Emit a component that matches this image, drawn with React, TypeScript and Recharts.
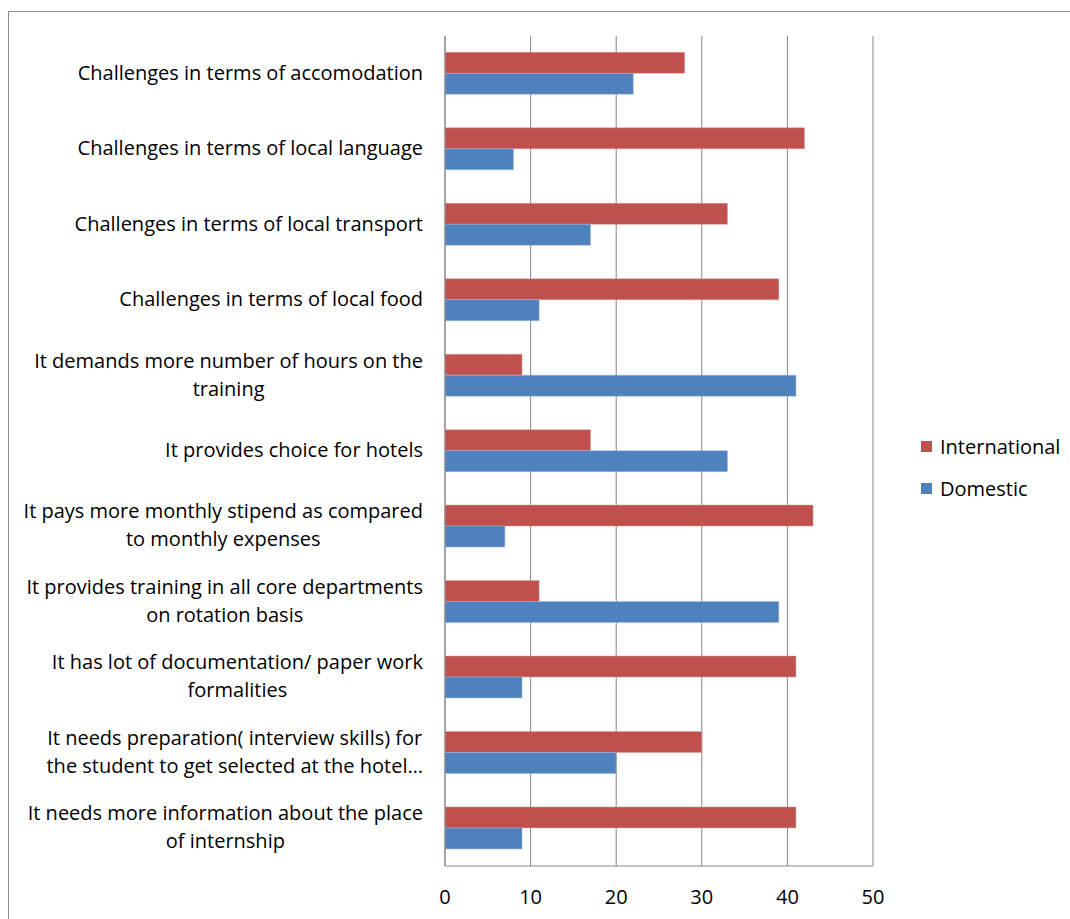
import React from "react";
import { BarChart, Bar, XAxis, YAxis, CartesianGrid } from "recharts";

const categories = [
  "Challenges in terms of accomodation",
  "Challenges in terms of local language",
  "Challenges in terms of local transport",
  "Challenges in terms of local food",
  "It demands more number of hours on the training",
  "It provides choice for hotels",
  "It pays more monthly stipend as compared to monthly expenses",
  "It provides training in all core departments on rotation basis",
  "It has lot of documentation/ paper work formalities",
  "It needs preparation( interview skills) for the student to get selected at the hotel…",
  "It needs more information about the place of internship",
];

const labelLines: string[][] = [
  ["Challenges in terms of accomodation"],
  ["Challenges in terms of local language"],
  ["Challenges in terms of local transport"],
  ["Challenges in terms of local food"],
  ["It demands more number of hours on the", "training"],
  ["It provides choice for hotels"],
  ["It pays more monthly stipend as compared", "to monthly expenses"],
  ["It provides training in all core departments", "on rotation basis"],
  ["It has lot of documentation/ paper work", "formalities"],
  ["It needs preparation( interview skills) for", "the student to get selected at the hotel…"],
  ["It needs more information about the place", "of internship"],
];

const international = [28, 42, 33, 39, 9, 17, 43, 11, 41, 30, 41];
const domestic = [22, 8, 17, 11, 41, 33, 7, 39, 9, 20, 9];

const xTicks = [0, 10, 20, 30, 40, 50];

const FONT = "'Open Sans', sans-serif";
const FONT_SIZE = 20;

const data = categories.map((c, i) => ({
  name: c,
  International: international[i],
  Domestic: domestic[i],
}));

let canvasCtx: CanvasRenderingContext2D | null = null;
function measure(text: string): number {
  if (!canvasCtx) {
    const c = document.createElement("canvas");
    canvasCtx = c.getContext("2d");
  }
  if (!canvasCtx) return text.length * FONT_SIZE * 0.5;
  canvasCtx.font = `${FONT_SIZE}px 'Open Sans'`;
  return canvasCtx.measureText(text).width;
}

const YTick = (props: any) => {
  const { x, y, payload } = props;
  const idx = categories.indexOf(payload.value);
  const lines = idx >= 0 ? labelLines[idx] : [String(payload.value)];
  const maxW = Math.max(...lines.map(measure));
  const cx = x - maxW / 2;
  const lh = 28;
  const y0 = y - ((lines.length - 1) * lh) / 2 - 1;
  return (
    <g>
      {lines.map((l, i) => (
        <text
          key={i}
          x={cx}
          y={y0 + i * lh}
          dy="0.35em"
          textAnchor="middle"
          fill="#000"
          fontSize={FONT_SIZE}
          fontFamily={FONT}
        >
          {l}
        </text>
      ))}
    </g>
  );
};

export default function App() {
  return (
    <div
      style={{
        position: "absolute",
        left: 0,
        top: 0,
        width: 1070,
        height: 919,
        background: "#fff",
        overflow: "hidden",
      }}
    >
      <div
        style={{
          position: "absolute",
          left: 8,
          top: 11,
          width: 1100,
          height: 1000,
          border: "1px solid #8c8c8c",
        }}
      />
      <div style={{ position: "absolute", left: 0, top: 0 }}>
        <BarChart
          width={1070}
          height={919}
          data={data}
          layout="vertical"
          margin={{ top: 36, right: 197, bottom: 0, left: 0 }}
          barGap={0}
          barCategoryGap="21.7%"
        >
          <CartesianGrid
            horizontal={false}
            vertical={true}
            stroke="#868686"
            strokeWidth={1}
          />
          <XAxis
            type="number"
            domain={[0, 50]}
            ticks={xTicks}
            interval={0}
            height={53}
            axisLine={{ stroke: "#868686" }}
            tickLine={false}
            tickSize={0}
            tickMargin={24}
            tick={{ fill: "#000", fontSize: 20, fontFamily: FONT }}
          />
          <YAxis
            type="category"
            dataKey="name"
            width={445}
            interval={0}
            axisLine={{ stroke: "#868686" }}
            tickLine={false}
            tickSize={0}
            tickMargin={22}
            tick={<YTick />}
          />
          <Bar
            dataKey="International"
            fill="#C0504D"
            stroke="#d9a3a2"
            strokeWidth={0.5}
            isAnimationActive={false}
          />
          <Bar
            dataKey="Domestic"
            fill="#4F81BD"
            stroke="#a3bde0"
            strokeWidth={0.5}
            isAnimationActive={false}
          />
        </BarChart>
      </div>
      <div
        style={{
          position: "absolute",
          left: 921,
          top: 432,
          fontFamily: FONT,
          fontSize: 20,
          color: "#000",
        }}
      >
        {[
          { label: "International", color: "#C0504D" },
          { label: "Domestic", color: "#4F81BD" },
        ].map((it, i) => (
          <div
            key={i}
            style={{
              display: "flex",
              alignItems: "center",
              height: 28,
              marginBottom: 14,
            }}
          >
            <span
              style={{
                display: "inline-block",
                width: 11,
                height: 11,
                background: it.color,
                marginRight: 8,
              }}
            />
            <span>{it.label}</span>
          </div>
        ))}
      </div>
    </div>
  );
}
